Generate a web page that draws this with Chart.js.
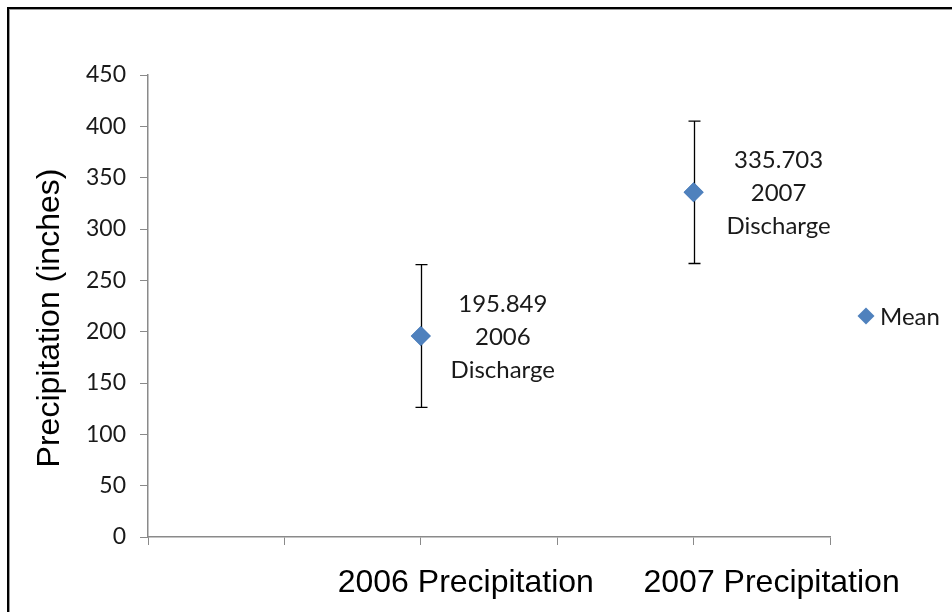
<!DOCTYPE html>
<html>
<head>
<meta charset="utf-8">
<script src="https://cdn.jsdelivr.net/npm/chart.js@4.4.1/dist/chart.umd.min.js"></script>
<style>
html,body{margin:0;padding:0;background:#fff;}
#wrap{position:relative;width:952px;height:612px;}
</style>
</head>
<body>
<div id="wrap"><canvas id="c" width="952" height="612"></canvas></div>
<script>
// ---- data ----
const categories = ['2006 Precipitation', '2007 Precipitation'];
const categoryPos = [2, 4];
const meanValues = [195.849, 335.703];
const errorValues = [69.5, 69.3];
const pointLabelYears = ['2006', '2007'];
const pointLabelSuffix = 'Discharge';
const yTicks = [0, 50, 100, 150, 200, 250, 300, 350, 400, 450];
const seriesName = 'Mean';
const yTitle = 'Precipitation (inches)';

const MARKER = '#4F81BD';
const AXIS = '#8a8a8a';

const extras = {
  id: 'extras',
  beforeDraw(chart) {
    const ctx = chart.ctx;
    ctx.save();
    ctx.fillStyle = '#fff';
    ctx.fillRect(0, 0, chart.width, chart.height);
    ctx.fillStyle = '#000';
    ctx.fillRect(7, 7, chart.width, 2);
    ctx.fillRect(7, 7, 2, chart.height);
    ctx.fillStyle = '#9a9a9a';
    ctx.fillRect(9, 9, chart.width, 1);
    ctx.fillRect(9, 9, 1, chart.height);
    ctx.restore();
  },
  afterDatasetsDraw(chart) {
    const ctx = chart.ctx;
    const xs = chart.scales.x, ys = chart.scales.y;
    ctx.save();
    // y axis title
    ctx.save();
    ctx.translate(50, 318);
    ctx.rotate(-Math.PI / 2);
    ctx.fillStyle = '#000';
    ctx.font = '32px "Liberation Sans"';
    ctx.textAlign = 'center';
    ctx.textBaseline = 'middle';
    ctx.fillText(yTitle, 0, 0);
    ctx.restore();
    // error bars
    ctx.strokeStyle = '#000';
    ctx.lineWidth = 1.3;
    meanValues.forEach((v, i) => {
      const px = Math.round(xs.getPixelForValue(categoryPos[i])) + 0.5;
      const top = ys.getPixelForValue(v + errorValues[i]);
      const bot = ys.getPixelForValue(v - errorValues[i]);
      ctx.beginPath();
      ctx.moveTo(px, top); ctx.lineTo(px, bot);
      ctx.moveTo(px - 6, top); ctx.lineTo(px + 6, top);
      ctx.moveTo(px - 6, bot); ctx.lineTo(px + 6, bot);
      ctx.stroke();
    });
    // redraw markers on top of error bars
    meanValues.forEach((v, i) => {
      const px = xs.getPixelForValue(categoryPos[i]);
      const py = ys.getPixelForValue(v);
      ctx.fillStyle = MARKER;
      ctx.beginPath();
      ctx.moveTo(px, py - 10); ctx.lineTo(px + 10, py);
      ctx.lineTo(px, py + 10); ctx.lineTo(px - 10, py);
      ctx.closePath(); ctx.fill();
    });
    // data labels
    ctx.fillStyle = '#1a1a1a';
    ctx.font = '24px Lato';
    ctx.textAlign = 'center';
    ctx.textBaseline = 'middle';
    meanValues.forEach((v, i) => {
      const px = xs.getPixelForValue(categoryPos[i]);
      const py = ys.getPixelForValue(v);
      const lines = [v.toFixed(3), pointLabelYears[i], pointLabelSuffix];
      const cx = px + 82 + (i === 1 ? 3 : 0);
      lines.forEach((t, k) => ctx.fillText(t, cx, py - 32 + k * 33));
    });
    // category labels
    ctx.fillStyle = '#000';
    ctx.font = '32px "Liberation Sans"';
    ctx.textBaseline = 'alphabetic';
    const shifts = [45, 78];
    categories.forEach((c, i) => {
      const px = xs.getPixelForValue(categoryPos[i]) + shifts[i];
      ctx.fillText(c, px, 592);
    });
    // legend
    const lx = 866, ly = 316;
    ctx.fillStyle = MARKER;
    ctx.beginPath();
    ctx.moveTo(lx, ly - 8.5); ctx.lineTo(lx + 8.5, ly);
    ctx.lineTo(lx, ly + 8.5); ctx.lineTo(lx - 8.5, ly);
    ctx.closePath(); ctx.fill();
    ctx.fillStyle = '#1a1a1a';
    ctx.font = '24px Lato';
    ctx.textAlign = 'left';
    ctx.textBaseline = 'middle';
    ctx.fillText(seriesName, 880, ly + 1);
    ctx.restore();
  }
};

new Chart(document.getElementById('c'), {
  type: 'scatter',
  data: {
    datasets: [{
      label: seriesName,
      data: meanValues.map((v, i) => ({ x: categoryPos[i], y: v })),
      pointStyle: 'rectRot',
      pointRadius: 10,
      backgroundColor: MARKER,
      borderColor: MARKER,
      borderWidth: 0
    }]
  },
  options: {
    responsive: false,
    animation: false,
    devicePixelRatio: 1,
    layout: { padding: { left: 0, top: 75, right: 122, bottom: 75 } },
    plugins: { legend: { display: false }, tooltip: { enabled: false } },
    scales: {
      x: {
        type: 'linear', min: 0, max: 5,
        afterFit(s) { s.height = 0; },
        ticks: { stepSize: 1, callback: () => '', padding: 0 },
        grid: { drawOnChartArea: false, drawTicks: true, tickLength: 8, color: AXIS },
        border: { color: AXIS, width: 1.5 }
      },
      y: {
        min: 0, max: 450,
        afterFit(s) { s.width = 148; },
        afterBuildTicks(s) { s.ticks = yTicks.map(v => ({ value: v })); },
        ticks: { padding: 14, color: '#1a1a1a', font: { family: 'Lato', size: 23 } },
        grid: { drawOnChartArea: false, drawTicks: true, tickLength: 8, color: AXIS },
        border: { color: AXIS, width: 1.5 },
        title: { display: false }
      }
    }
  },
  plugins: [extras]
});
</script>
</body>
</html>
